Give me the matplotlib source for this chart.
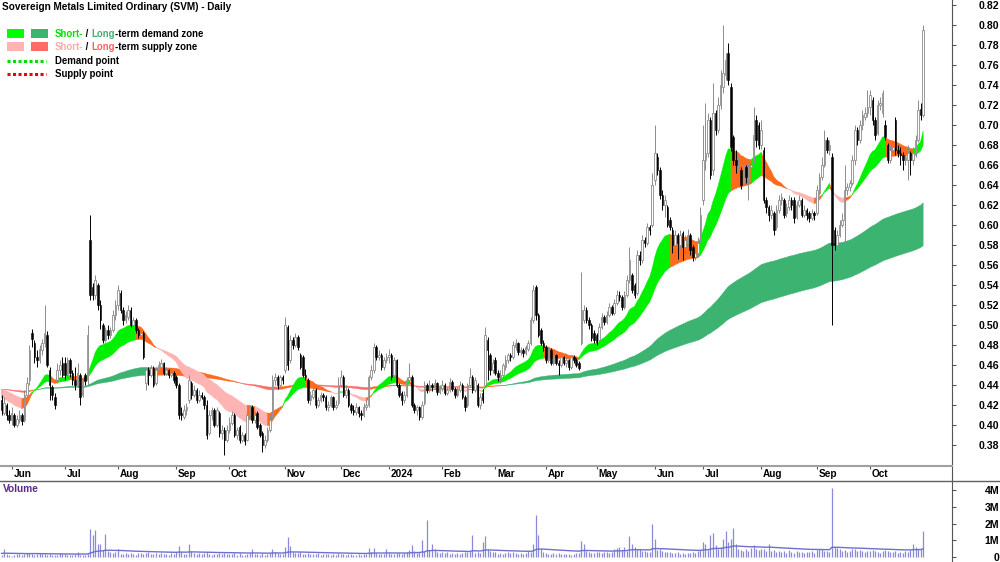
import matplotlib
matplotlib.use('Agg')
import matplotlib.pyplot as plt
from matplotlib.patches import Rectangle
from matplotlib.lines import Line2D
import numpy as np
import pandas as pd

plt.rcParams['font.family'] = ['Liberation Sans', 'DejaVu Sans']

# daily prices in thousandths of a dollar, one line per month (26 May 2023 - 30 Oct 2024)
opens = [
    425, 412, 420, 410,
    405, 410, 400, 405, 410, 405, 430, 445, 492, 482, 468, 465, 475, 482, 490, 455, 438, 428, 445, 455, 462,
    462, 450, 465, 452, 445, 440, 450, 430, 450, 445, 585, 538, 530, 540, 520, 500, 485, 495, 490, 495, 510,
    520, 532, 515, 505, 508, 515, 500, 505, 495, 490, 492, 442, 455, 450, 457, 442, 455, 458, 462, 452, 455, 450, 452,
    448, 440, 412, 408, 415, 425, 442, 430, 435, 425, 430, 428, 420, 392, 410, 415, 400, 412, 392, 395, 385,
    395, 402, 410, 390, 398, 385, 390, 385, 410, 418, 405, 412, 400, 392, 380, 385, 395, 408, 445, 448, 440, 448,
    455, 498, 465, 485, 480, 488, 470, 468, 450, 445, 425, 428, 435, 420, 425, 430, 428, 418, 420, 428, 418, 422,
    440, 448, 430, 435, 420, 415, 413, 418, 412, 410, 418, 420, 448, 455, 478, 468, 470, 458, 465,
    468, 470, 450, 465, 440, 432, 425, 430, 445, 448, 420, 415, 418, 408, 422, 440, 435, 440, 438, 442, 433,
    437, 440, 432, 435, 443, 436, 430, 435, 440, 428, 420, 440, 448, 435, 440, 420, 432, 440, 485, 470, 455,
    465, 452, 448, 450, 458, 465, 470, 468, 478, 482, 473, 475, 472, 476, 482, 505, 538, 510, 495, 482,
    478, 465, 475, 462, 470, 462, 460, 468, 462, 465, 458, 468, 465, 462, 482, 505, 515, 505, 500, 492,
    490, 485, 498, 508, 503, 510, 518, 512, 522, 530, 528, 518, 530, 545, 550, 540, 532, 570, 565, 585, 582, 598, 600,
    645, 668, 655, 630, 620, 618, 605, 595, 580, 590, 580, 592, 578, 582, 590, 578, 568, 572, 585,
    625, 665, 672, 705, 655, 712, 695, 720, 738, 750, 772, 738, 688, 665, 660, 655, 642, 658, 645, 658, 665, 705, 700,
    680, 675, 625, 618, 610, 612, 598, 615, 625, 625, 612, 618, 625, 625, 608, 620, 625, 610, 615, 612, 607, 612,
    612, 632, 648, 660, 685, 675, 668, 595, 580, 590, 600, 605, 635, 638, 642, 665, 695, 685, 700, 708, 712,
    718, 725, 705, 692, 720, 712, 700, 680, 665, 675, 705, 675, 672, 670, 665, 665, 672, 665, 672, 685, 716, 710,
]
highs = [
    430, 428, 422, 415,
    418, 412, 410, 415, 412, 435, 448, 480, 496, 485, 475, 480, 486, 520, 494, 458, 440, 432, 462, 465, 468,
    468, 468, 467, 455, 458, 462, 452, 448, 452, 500, 610, 542, 550, 542, 525, 502, 498, 500, 498, 515, 525,
    540, 535, 518, 514, 520, 518, 508, 507, 497, 495, 494, 458, 458, 460, 459, 458, 464, 466, 463, 458, 456, 455, 454,
    450, 442, 418, 420, 422, 450, 444, 440, 437, 435, 433, 430, 425, 415, 418, 417, 418, 414, 400, 398, 400,
    408, 414, 412, 398, 400, 393, 392, 415, 420, 420, 414, 414, 402, 394, 390, 398, 410, 450, 452, 450, 450, 450,
    508, 500, 490, 488, 492, 490, 472, 470, 456, 447, 434, 438, 437, 428, 433, 432, 430, 424, 430, 429, 425, 448,
    455, 450, 440, 437, 422, 420, 422, 419, 415, 422, 425, 450, 460, 482, 480, 475, 472, 468, 472,
    476, 472, 468, 466, 442, 434, 434, 448, 462, 450, 422, 420, 419, 424, 444, 442, 445, 442, 446, 443, 440,
    445, 442, 438, 447, 445, 438, 438, 444, 442, 430, 442, 457, 450, 448, 442, 432, 436, 498, 488, 472, 466,
    468, 455, 455, 462, 470, 472, 472, 484, 486, 483, 478, 477, 480, 485, 508, 540, 540, 512, 497, 485,
    480, 478, 477, 474, 471, 465, 470, 469, 468, 466, 470, 470, 467, 464, 553, 520, 518, 508, 502, 495,
    492, 502, 512, 510, 514, 522, 520, 526, 535, 534, 530, 534, 550, 578, 552, 542, 575, 574, 590, 588, 602, 600, 652,
    700, 672, 658, 635, 630, 620, 608, 598, 595, 592, 595, 594, 590, 596, 592, 580, 576, 588, 618,
    700, 722, 712, 708, 742, 715, 728, 755, 800, 772, 782, 742, 690, 675, 668, 658, 664, 660, 662, 664, 718, 710, 703,
    705, 678, 628, 620, 620, 614, 620, 630, 632, 627, 622, 630, 628, 628, 624, 630, 627, 620, 617, 614, 616, 614,
    640, 652, 668, 695, 688, 685, 672, 598, 595, 605, 612, 660, 642, 645, 670, 700, 698, 705, 715, 718, 735,
    735, 728, 708, 725, 728, 735, 705, 682, 680, 682, 708, 680, 678, 673, 675, 680, 674, 678, 690, 725, 722, 800,
]
lows = [
    410, 410, 405, 402,
    400, 398, 398, 402, 400, 403, 428, 440, 478, 462, 458, 462, 470, 478, 458, 425, 425, 416, 442, 450, 448,
    445, 448, 448, 440, 435, 438, 420, 428, 440, 440, 525, 525, 526, 515, 496, 482, 483, 486, 487, 493, 505,
    515, 512, 500, 502, 505, 498, 497, 492, 487, 488, 466, 435, 440, 448, 438, 440, 452, 455, 450, 450, 447, 448, 442,
    437, 406, 405, 406, 410, 422, 426, 428, 422, 423, 426, 416, 386, 390, 405, 398, 398, 388, 386, 370, 383,
    392, 400, 388, 386, 382, 383, 380, 384, 407, 402, 402, 396, 388, 373, 377, 383, 393, 406, 440, 436, 438, 441,
    452, 455, 462, 476, 478, 475, 456, 448, 445, 422, 420, 426, 417, 418, 423, 424, 415, 414, 418, 415, 416, 420,
    438, 428, 427, 418, 412, 410, 410, 408, 405, 408, 415, 418, 445, 452, 465, 465, 455, 455, 462,
    462, 445, 448, 438, 428, 420, 422, 428, 443, 418, 412, 410, 405, 406, 420, 432, 433, 434, 436, 430, 431,
    434, 430, 430, 433, 434, 427, 428, 433, 426, 414, 418, 438, 432, 433, 418, 416, 422, 438, 445, 450, 452,
    450, 444, 442, 448, 455, 462, 464, 466, 475, 470, 470, 468, 470, 474, 480, 502, 505, 488, 480, 474,
    462, 463, 460, 460, 460, 450, 458, 460, 458, 455, 456, 462, 458, 455, 480, 502, 502, 496, 484, 482,
    480, 483, 496, 500, 501, 508, 510, 510, 520, 524, 515, 516, 528, 542, 532, 527, 530, 560, 562, 578, 580, 590, 598,
    640, 650, 626, 615, 608, 598, 595, 572, 575, 566, 576, 565, 568, 578, 570, 564, 565, 568, 583,
    620, 655, 668, 646, 650, 690, 692, 716, 732, 745, 740, 674, 660, 652, 655, 636, 640, 642, 625, 652, 662, 678, 676,
    676, 622, 612, 604, 606, 590, 595, 612, 620, 607, 608, 615, 615, 602, 606, 618, 608, 608, 605, 603, 605, 605,
    610, 630, 645, 658, 672, 670, 500, 575, 578, 588, 598, 580, 630, 634, 640, 660, 680, 682, 695, 705, 708,
    710, 700, 685, 690, 715, 708, 685, 662, 662, 672, 670, 668, 660, 655, 660, 645, 650, 660, 668, 683, 705, 708,
]
closes = [
    415, 422, 410, 405,
    412, 400, 406, 410, 404, 430, 442, 475, 486, 468, 465, 476, 482, 492, 460, 440, 430, 420, 455, 460, 450,
    450, 465, 452, 445, 440, 452, 428, 445, 444, 490, 530, 530, 545, 520, 505, 485, 495, 490, 495, 510, 520,
    535, 515, 505, 510, 515, 500, 505, 495, 490, 492, 468, 455, 450, 457, 440, 455, 460, 462, 452, 455, 450, 452, 445,
    440, 410, 410, 415, 418, 445, 430, 435, 425, 430, 428, 420, 390, 410, 415, 400, 415, 392, 395, 385, 395,
    402, 410, 390, 395, 385, 390, 384, 410, 418, 405, 410, 398, 390, 380, 385, 395, 405, 445, 448, 440, 448, 445,
    500, 460, 485, 480, 488, 478, 458, 450, 448, 425, 430, 435, 420, 425, 430, 428, 418, 420, 428, 418, 420, 440,
    448, 430, 435, 420, 415, 413, 418, 412, 410, 418, 420, 448, 455, 478, 468, 470, 458, 465, 468,
    470, 448, 465, 440, 430, 425, 430, 445, 448, 420, 415, 418, 408, 420, 440, 435, 440, 438, 442, 433, 437,
    440, 432, 435, 443, 436, 430, 435, 440, 428, 418, 440, 448, 435, 445, 420, 428, 425, 490, 475, 455, 462,
    452, 448, 450, 460, 465, 470, 468, 480, 482, 473, 475, 472, 478, 482, 505, 535, 510, 490, 482, 478,
    465, 475, 462, 470, 462, 460, 468, 462, 465, 458, 468, 465, 460, 457, 515, 515, 505, 500, 487, 485,
    483, 498, 508, 503, 510, 518, 512, 522, 530, 528, 518, 530, 545, 565, 535, 530, 570, 565, 585, 582, 598, 595, 640,
    672, 655, 630, 620, 625, 600, 598, 580, 590, 582, 590, 578, 585, 590, 575, 568, 572, 582, 610,
    665, 672, 705, 650, 712, 695, 720, 740, 752, 765, 745, 678, 665, 660, 662, 640, 660, 648, 658, 660, 690, 685, 680,
    695, 625, 618, 610, 615, 595, 615, 625, 628, 610, 618, 625, 620, 607, 620, 625, 610, 615, 610, 607, 612, 610,
    635, 648, 660, 685, 675, 680, 580, 580, 590, 600, 605, 635, 638, 642, 665, 695, 685, 700, 710, 712, 718,
    730, 705, 690, 720, 722, 732, 688, 665, 675, 678, 675, 672, 670, 665, 668, 672, 665, 672, 685, 715, 710, 795,
]
# daily volume in thousands of shares
volume_k = [
    120, 470, 150, 90,
    80, 110, 150, 200, 130, 180, 220, 260, 160, 140, 190, 230, 170, 150, 120, 200, 110, 90, 130, 240, 160,
    150, 100, 130, 90, 180, 300, 140, 120, 110, 200, 1700, 1300, 1600, 800, 750, 420, 1400, 380, 300, 250, 320,
    470, 200, 180, 250, 150, 230, 170, 140, 210, 260, 190, 230, 300, 180, 160, 210, 150, 240, 190, 170, 130, 220, 180,
    280, 650, 300, 200, 180, 750, 350, 220, 190, 240, 160, 210, 300, 180, 140, 200, 150, 220, 170, 250, 180,
    200, 150, 230, 120, 260, 140, 110, 180, 230, 450, 160, 200, 140, 230, 120, 180, 250, 500, 300, 220, 190, 160,
    600, 1200, 650, 300, 250, 220, 280, 190, 160, 240, 200, 150, 180, 210, 130, 170, 150, 200, 120, 160, 140, 230,
    200, 160, 130, 180, 150, 110, 140, 170, 120, 160, 190, 550, 300, 550, 260, 200, 180, 150, 450,
    220, 180, 200, 260, 210, 170, 230, 300, 400, 700, 380, 260, 300, 1000, 350, 2200, 420, 750, 500, 300, 250,
    280, 220, 300, 180, 260, 200, 240, 170, 210, 320, 280, 350, 1300, 260, 300, 240, 900, 1250, 500, 380, 300,
    280, 200, 240, 180, 260, 300, 220, 280, 250, 190, 230, 200, 260, 350, 300, 800, 2500, 1300, 450, 320,
    260, 200, 180, 230, 170, 220, 150, 190, 160, 200, 140, 180, 210, 230, 950, 750, 380, 300, 260, 240,
    280, 300, 250, 320, 270, 240, 310, 500, 550, 600, 420, 580, 350, 1250, 750, 600, 400, 450, 380, 350, 300, 280, 2000,
    1100, 420, 500, 350, 300, 280, 320, 250, 230, 280, 200, 260, 180, 240, 220, 300, 260, 350, 420,
    900, 800, 400, 1300, 1450, 700, 450, 600, 1050, 1550, 900, 1100, 1750, 800, 500, 420, 380, 460, 350, 520, 700, 480, 400,
    450, 500, 380, 800, 350, 420, 300, 380, 280, 330, 250, 400, 300, 260, 350, 280, 320, 240, 300, 270, 380, 260,
    400, 450, 500, 380, 350, 300, 4150, 600, 520, 450, 380, 400, 320, 360, 450, 500, 380, 420, 350, 300, 330,
    350, 420, 380, 300, 260, 330, 400, 380, 300, 280, 350, 260, 300, 250, 380, 320, 420, 800, 600, 500, 450, 1550,
]
asx_holidays = ['2023-06-12', '2023-12-25', '2023-12-26', '2024-01-01', '2024-01-26',
                '2024-03-29', '2024-04-01', '2024-04-25', '2024-06-10']

# moving-average zones: (fast span, slow span) and their values carried in from before the window
short_spans, short_seed = (20, 40), (0.428, 0.437)
long_spans, long_seed = (140, 240), (0.436, 0.436)
vol_span, vol_seed = 50, 0.22

dates = pd.bdate_range('2023-05-26', '2024-10-30')
dates = dates[~dates.isin(pd.to_datetime(asx_holidays))]
o = np.array(opens) / 1000
h = np.array(highs) / 1000
l = np.array(lows) / 1000
c = np.array(closes) / 1000
vol = np.array(volume_k) / 1000
assert len(dates) == len(o) == len(h) == len(l) == len(c) == len(vol)
x = np.arange(len(c))


def ema(vals, span, seed):
    s = pd.Series(np.concatenate([[seed], vals]))
    return s.ewm(span=span, adjust=False).mean().to_numpy()[1:]


W, H = 1000, 562
fig = plt.figure(figsize=(W / 100, H / 100), dpi=100)


def box(top, bottom, left=0, right=952):
    return [left / W, 1 - bottom / H, (right - left) / W, (bottom - top) / H]


ax = fig.add_axes(box(0, 466))
ax_s = fig.add_axes(box(466, 480), sharex=ax)
ax_v = fig.add_axes(box(480, 562), sharex=ax)

# zones: green when the fast line is above and rising, red when below and falling, orange otherwise
ORANGE = '#ff6a1f'


def draw_zone(fast, slow, up_col, down_col, lookback, z):
    prev = np.r_[np.full(lookback, fast[0]), fast[:-lookback]]
    rising = fast >= prev
    demand = (fast >= slow) & rising
    supply = (fast < slow) & ~rising
    mixed = ~(demand | supply)
    for mask, col in ((supply, down_col), (mixed, ORANGE), (demand, up_col)):
        m = mask.copy()
        m[:-1] |= mask[1:]
        ax.fill_between(x, fast, slow, where=m, color=col, lw=0.3, zorder=z)


lf, ls = ema(c, long_spans[0], long_seed[0]), ema(c, long_spans[1], long_seed[1])
sf, ss = ema(c, short_spans[0], short_seed[0]), ema(c, short_spans[1], short_seed[1])
draw_zone(lf, ls, '#3cb371', '#ff6b6b', 5, 1)
draw_zone(sf, ss, '#00f000', '#ffb4b4', 2, 2)

# candles
up = c >= o
ax.vlines(x[up], l[up], h[up], color='#8c8c8c', lw=0.7, zorder=3)
ax.vlines(x[~up], l[~up], h[~up], color='black', lw=0.7, zorder=3)
ax.bar(x[up], np.maximum(c - o, 0.001)[up], bottom=o[up], width=0.62,
       color='white', edgecolor='#8c8c8c', lw=0.6, zorder=4)
ax.bar(x[~up], (o - c)[~up], bottom=c[~up], width=0.62,
       color='black', edgecolor='black', lw=0.4, zorder=4)

ax.set_xlim(-0.62, 375.4)
ax.set_ylim(0.359, 0.825)
ax.yaxis.tick_right()
yt = np.arange(0.38, 0.8201, 0.02)
ax.set_yticks(yt)
ax.set_yticklabels([f'{v:.2f}' for v in yt])
for sp in ('left', 'top', 'bottom'):
    ax.spines[sp].set_visible(False)
ax.tick_params(axis='x', bottom=False, labelbottom=False)

# month strip
month_start = np.r_[0, np.nonzero(np.diff(dates.month))[0] + 1]
month_start = month_start[dates[month_start].day <= 7]
month_lbl = [d.strftime('%b') if d.month != 1 else str(d.year) for d in dates[month_start]]
ax_s.set_ylim(0, 1)
ax_s.set_yticks([])
ax_s.set_xticks(month_start)
ax_s.tick_params(axis='x', top=True, bottom=False, direction='in', length=2.5,
                 color='#555555', labelbottom=False)
for i, lb in zip(month_start, month_lbl):
    ax_s.text(i + 0.65, 0.45, lb, ha='left', va='center', fontsize=7.2, fontweight='bold')
ax_s.spines['left'].set_visible(False)
ax_s.spines['top'].set_color('#a0a0a0')
ax_s.spines['top'].set_linewidth(1.5)
ax_s.spines['bottom'].set_visible(False)
ax_s.spines['right'].set_color('#555555')

# volume
vol_ma = ema(vol, vol_span, vol_seed)
ax_v.vlines(x, 0, vol, color='#8a8ad8', lw=0.9)
ax_v.plot(x, vol_ma, color='#6f6fcf', lw=1)
ax_v.set_ylim(-0.3, 4.6)
ax_v.yaxis.tick_right()
ax_v.set_yticks([0, 1, 2, 3, 4])
ax_v.set_yticklabels(['0', '1M', '2M', '3M', '4M'])
for sp in ('left', 'top', 'bottom'):
    ax_v.spines[sp].set_visible(False)
ax_v.tick_params(axis='x', bottom=False, labelbottom=False)

for a in (ax, ax_v):
    a.spines['right'].set_color('#555555')
    a.tick_params(axis='y', direction='out', length=3, width=0.8, color='#555555',
                  pad=31, labelsize=7.6)
    for t in a.get_yticklabels():
        t.set_ha('right')
        t.set_fontweight('bold')

fig.text(3 / W, 1 - 489 / H, 'Volume', color='#5b2a8c', fontsize=7.3, fontweight='bold',
         va='center', ha='left')
fig.add_artist(Line2D([0, 1], [1 - 480.5 / H] * 2, transform=fig.transFigure,
                      color='#606060', lw=1))

# title and legend
fig.text(2 / W, 1 - 7 / H, 'Sovereign Metals Limited Ordinary (SVM) - Daily',
         fontsize=7.2, fontweight='bold', va='center', ha='left')


def px_rect(x0, y0, w, hgt, col):
    fig.add_artist(Rectangle((x0 / W, 1 - (y0 + hgt) / H), w / W, hgt / H,
                             transform=fig.transFigure, color=col, lw=0))


renderer = fig.canvas.get_renderer()


def color_text(x0, y0, pieces):
    xx = x0
    for s, col in pieces:
        t = fig.text(xx / W, 1 - y0 / H, s, color=col, fontsize=6.9, fontweight='bold',
                     va='center', ha='left')
        xx += t.get_window_extent(renderer).width


px_rect(7, 29, 17, 9, '#00ff00')
px_rect(31, 29, 17, 9, '#3cb371')
px_rect(7, 42, 17, 9, '#ffb4b4')
px_rect(31, 42, 17, 9, '#ff6b6b')
color_text(55, 34, [('Short-', '#00e000'), (' / ', 'black'), ('Long', '#3cb371'),
                    ('-term demand zone', 'black')])
color_text(55, 47, [('Short-', '#ffaaaa'), (' / ', 'black'), ('Long', '#ff6060'),
                    ('-term supply zone', 'black')])
for yy, col, lb in ((61, '#00dd00', 'Demand point'), (74, '#ee0000', 'Supply point')):
    fig.add_artist(Line2D([7 / W, 46 / W], [1 - yy / H] * 2, transform=fig.transFigure,
                          color=col, lw=2.2, linestyle=(0, (1.0, 0.8))))
    fig.text(55 / W, 1 - yy / H, lb, fontsize=6.9, fontweight='bold', va='center', ha='left')

fig.savefig('out.png', dpi=100)
